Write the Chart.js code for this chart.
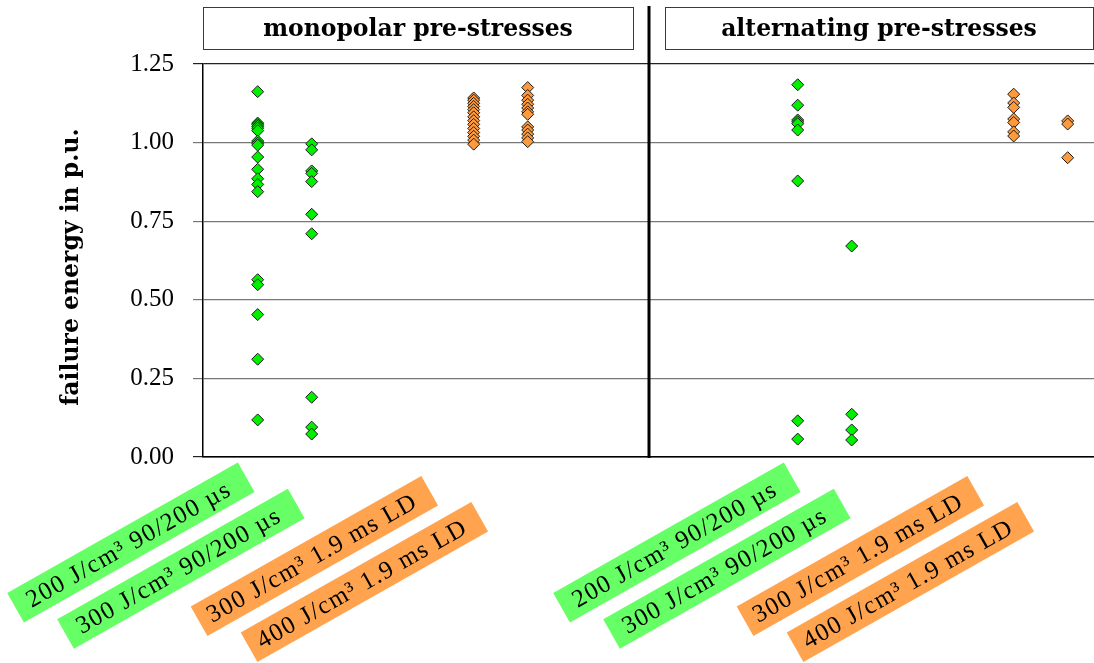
<!DOCTYPE html>
<html>
<head>
<meta charset="utf-8">
<title>Failure energy after pre-stresses</title>
<script src="https://cdn.jsdelivr.net/npm/chart.js@4.4.1/dist/chart.umd.min.js"></script>
<style>
  html, body { margin: 0; padding: 0; background: #ffffff; }
  canvas { display: block; }
</style>
</head>
<body>
<canvas id="chart" width="1094" height="663"></canvas>
<script>
// ---- data -------------------------------------------------------------
const panels = ['monopolar pre-stresses', 'alternating pre-stresses'];
const categories = [
  '200 J/cm³ 90/200 µs',
  '300 J/cm³ 90/200 µs',
  '300 J/cm³ 1.9 ms LD',
  '400 J/cm³ 1.9 ms LD'
];
const categoryGroup = ['impulse', 'impulse', 'ld', 'ld'];
const yTicks = [0, 0.25, 0.5, 0.75, 1.0, 1.25];
const yTitle = 'failure energy in p.u.';

// monopolar pre-stresses
const mono200 = [1.162, 1.062, 1.057, 1.052, 1.046, 1.038, 1.005, 0.998, 0.992,
                 0.954, 0.915, 0.885, 0.867, 0.844, 0.564, 0.548, 0.453, 0.311, 0.118];
const mono300 = [0.996, 0.977, 0.910, 0.902, 0.876, 0.772, 0.710, 0.190, 0.095, 0.073];
const mono300LD = [1.142, 1.135, 1.125, 1.115, 1.105, 1.095, 1.082, 1.070, 1.058,
                   1.045, 1.032, 1.020, 1.008, 0.995];
const mono400LD = [1.175, 1.150, 1.135, 1.122, 1.110, 1.098, 1.090, 1.050, 1.040,
                   1.027, 1.015, 1.003];

// alternating pre-stresses
const alt200 = [1.184, 1.119, 1.072, 1.066, 1.060, 1.040, 0.878, 0.115, 0.057];
const alt300 = [0.671, 0.136, 0.086, 0.054];
const alt300LD = [1.154, 1.126, 1.112, 1.075, 1.064, 1.034, 1.021];
const alt400LD = [1.069, 1.059, 0.952];

const panelValues = [
  [mono200, mono300, mono300LD, mono400LD],
  [alt200, alt300, alt300LD, alt400LD]
];

// ---- layout / style ---------------------------------------------------
const SLOT = [0, 1, 4, 5];         // category slots inside a panel (x units)
const PANEL_STEP = 10;             // x offset of the second panel
const X_MIN = -1.013, X_MAX = 15.487, PANEL_SPLIT = 7.246;

const markerFill = { impulse: '#00f000', ld: '#ff9a3c' };
const labelFill = { impulse: '#66ff66', ld: '#ffa34e' };

const FONT = '"Liberation Serif", "DejaVu Serif", serif';
const BOLD_FONT = '"DejaVu Serif", "Liberation Serif", serif';

const xOf = (p, c) => SLOT[c] + p * PANEL_STEP;

const datasets = [];
panelValues.forEach((cols, p) => {
  cols.forEach((vals, c) => {
    datasets.push({
      label: panels[p] + ' / ' + categories[c],
      data: vals.map(v => ({ x: xOf(p, c), y: v })),
      pointStyle: 'rectRot',
      pointRadius: 6,
      pointBorderWidth: 1,
      backgroundColor: markerFill[categoryGroup[c]],
      borderColor: '#1b1b1b',
      showLine: false
    });
  });
});

// rotated category labels: anchor = right-end centre of each tag,
// placed relative to the category's x pixel and the bottom of the plot
const TAG_DX = [-11.5, -15.5, -44, -48];
const TAG_PANEL_DX = 6;
const TAG_DY = [20.3, 46.5, 33.8, 59.8];
const TAG_ANGLE = -29.5 * Math.PI / 180;
const TAG_LEN = 265, TAG_H = 34;

const decorations = {
  id: 'decorations',
  afterDraw(chart) {
    const { ctx, chartArea, scales: { x } } = chart;
    const split = x.getPixelForValue(PANEL_SPLIT);
    ctx.save();

    // panel divider
    ctx.fillStyle = '#000';
    ctx.fillRect(Math.round(split) - 1.5, 6, 3, chartArea.bottom - 6 + 1);

    // panel headers
    const boxes = [
      [chartArea.left, split - 16],
      [split + 16, chartArea.right - 1]
    ];
    ctx.lineWidth = 1;
    ctx.strokeStyle = '#3a3a3a';
    ctx.font = 'bold 23.5px ' + BOLD_FONT;
    ctx.textAlign = 'center';
    ctx.textBaseline = 'middle';
    boxes.forEach(([l, r], i) => {
      ctx.strokeRect(Math.round(l) + 0.5, 7.5, Math.round(r - l), 42);
      ctx.fillStyle = '#000';
      ctx.fillText(panels[i], (l + r) / 2, 30);
    });

    // y-axis title
    ctx.save();
    ctx.translate(72, 267);
    ctx.rotate(-Math.PI / 2);
    ctx.font = 'bold 23.5px ' + BOLD_FONT;
    ctx.fillText(yTitle, 0, 0);
    ctx.restore();

    // category tags
    ctx.font = '25px ' + FONT;
    if ('letterSpacing' in ctx) ctx.letterSpacing = '1.4px';
    panels.forEach((_, p) => {
      categories.forEach((txt, c) => {
        const ax = x.getPixelForValue(xOf(p, c)) + TAG_DX[c] + p * TAG_PANEL_DX;
        const ay = chartArea.bottom + TAG_DY[c];
        const tw = ctx.measureText(txt).width;
        const len = Math.max(TAG_LEN, tw + 20);
        ctx.save();
        ctx.translate(ax, ay);
        ctx.rotate(TAG_ANGLE);
        ctx.fillStyle = labelFill[categoryGroup[c]];
        ctx.fillRect(-len, -TAG_H / 2, len, TAG_H);
        ctx.fillStyle = '#000';
        ctx.textAlign = 'center';
        ctx.textBaseline = 'middle';
        ctx.fillText(txt, -len / 2 - 3, 1.5);
        ctx.restore();
      });
    });
    ctx.restore();
  }
};

new Chart(document.getElementById('chart'), {
  type: 'scatter',
  data: { datasets },
  options: {
    responsive: false,
    devicePixelRatio: 1,
    animation: false,
    layout: { autoPadding: false, padding: { top: 64, right: 0, bottom: 0, left: 0 } },
    plugins: { legend: { display: false }, tooltip: { enabled: false } },
    scales: {
      x: {
        type: 'linear',
        min: X_MIN,
        max: X_MAX,
        grid: { display: false },
        border: { display: true, color: '#000', width: 1.5 },
        ticks: { display: false },
        afterFit(scale) { scale.height = 206; }
      },
      y: {
        min: 0,
        max: 1.25,
        afterBuildTicks(scale) { scale.ticks = yTicks.map(v => ({ value: v })); },
        ticks: {
          callback: v => Number(v).toFixed(2),
          color: '#000',
          font: { family: FONT, size: 25 },
          padding: 19
        },
        grid: {
          color: ctx => (ctx.tick && (ctx.tick.value === 0 || ctx.tick.value === 1.25)) ? '#222' : '#777',
          lineWidth: 1.2,
          tickLength: 10,
          drawTicks: true
        },
        border: { display: true, color: '#000', width: 1.5 },
        afterFit(scale) { scale.width = 203; }
      }
    }
  },
  plugins: [decorations]
});
</script>
</body>
</html>
